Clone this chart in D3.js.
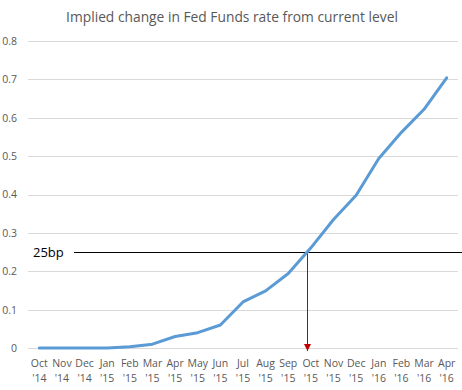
<!DOCTYPE html>
<html>
<head>
<meta charset="utf-8">
<script src="https://cdn.jsdelivr.net/npm/d3@7"></script>
<style>
  body { margin: 0; background: #fff; }
  svg { display: block; font-family: "Open Sans", "Liberation Sans", sans-serif; }
</style>
</head>
<body>
<div class="chart"></div>
<script>
const months = ["Oct", "Nov", "Dec", "Jan", "Feb", "Mar", "Apr", "May", "Jun", "Jul",
                "Aug", "Sep", "Oct", "Nov", "Dec", "Jan", "Feb", "Mar", "Apr"];
const years = ["'14", "'14", "'14", "'15", "'15", "'15", "'15", "'15", "'15", "'15",
               "'15", "'15", "'15", "'15", "'15", "'16", "'16", "'16", "'16"];
const implied = [0, 0, 0, 0, 0.003, 0.01, 0.03, 0.04, 0.06, 0.12,
                 0.149, 0.194, 0.261, 0.335, 0.398, 0.494, 0.562, 0.622, 0.704];
const yTicks = [0, 0.1, 0.2, 0.3, 0.4, 0.5, 0.6, 0.7, 0.8];
const threshold = 0.25;
const thresholdLabel = "25bp";
const title = "Implied change in Fed Funds rate from current level";

const width = 462;
const height = 390;
const plotLeft = 28, plotRight = 458, plotTop = 41, plotBottom = 348;

const svg = d3.select(".chart").append("svg")
    .attr("width", width)
    .attr("height", height);

const x = d3.scaleBand()
    .domain(d3.range(months.length))
    .range([plotLeft, plotRight]);

const y = d3.scaleLinear()
    .domain([0, 0.8])
    .range([plotBottom, plotTop]);

const cx = i => x(i) + x.bandwidth() / 2;
const crisp = v => Math.round(v) + 0.5;

// title
svg.append("text")
    .attr("x", 232)
    .attr("y", 22)
    .attr("text-anchor", "middle")
    .attr("fill", "#595959")
    .style("font-size", "13.8px")
    .text(title);

// grid
svg.append("g")
    .selectAll("line")
    .data(yTicks).enter()
    .append("line")
    .attr("x1", plotLeft)
    .attr("x2", plotRight)
    .attr("y1", d => crisp(y(d)))
    .attr("y2", d => crisp(y(d)))
    .attr("stroke", "#d9d9d9")
    .attr("stroke-width", 1);

// y axis labels
const yAxis = d3.axisLeft(y)
    .tickValues(yTicks)
    .tickFormat(d => d === 0 ? "0" : d3.format(".1f")(d))
    .tickSize(0)
    .tickPadding(0);

svg.append("g")
    .attr("transform", "translate(17,0)")
    .call(yAxis)
    .call(g => g.select(".domain").remove())
    .selectAll("text")
    .attr("fill", "#595959")
    .style("font-size", "10.5px")
    .style("font-family", "'Open Sans', sans-serif");

// x axis labels (two lines)
const xAxis = svg.append("g");
xAxis.selectAll("text")
    .data(months).enter()
    .append("text")
    .attr("x", (d, i) => cx(i))
    .attr("y", 367)
    .attr("text-anchor", "middle")
    .attr("fill", "#595959")
    .style("font-size", "10.5px")
    .each(function(d, i) {
        const t = d3.select(this);
        t.append("tspan").attr("x", cx(i)).text(d);
        t.append("tspan").attr("x", cx(i)).attr("dy", 15).text(years[i]);
    });

// 25bp line
svg.append("line")
    .attr("x1", 74)
    .attr("x2", width)
    .attr("y1", crisp(y(threshold)))
    .attr("y2", crisp(y(threshold)))
    .attr("stroke", "#000")
    .attr("stroke-width", 1);

svg.append("text")
    .attr("x", 33)
    .attr("y", y(threshold) + 5)
    .attr("fill", "#000")
    .style("font-size", "13px")
    .text(thresholdLabel);

// where the curve crosses the threshold
let crossX = cx(0);
for (let i = 1; i < implied.length; i++) {
    if (implied[i - 1] < threshold && implied[i] >= threshold) {
        const t = (threshold - implied[i - 1]) / (implied[i] - implied[i - 1]);
        crossX = cx(i - 1) + t * (cx(i) - cx(i - 1));
        break;
    }
}

svg.append("defs").append("marker")
    .attr("id", "arrow")
    .attr("viewBox", "0 0 10 10")
    .attr("refX", 10)
    .attr("refY", 5)
    .attr("markerWidth", 7)
    .attr("markerHeight", 7)
    .attr("markerUnits", "userSpaceOnUse")
    .attr("orient", "auto")
    .append("path")
    .attr("d", "M0,0L10,5L0,10Z")
    .attr("fill", "#c00000");

svg.append("line")
    .attr("x1", crisp(crossX))
    .attr("x2", crisp(crossX))
    .attr("y1", crisp(y(threshold)))
    .attr("y2", y(0) + 3)
    .attr("stroke", "#c00000")
    .attr("stroke-width", 1)
    .attr("marker-end", "url(#arrow)");

// series line
const line = d3.line()
    .x((d, i) => cx(i))
    .y(d => y(d));

svg.append("path")
    .datum(implied)
    .attr("d", line)
    .attr("fill", "none")
    .attr("stroke", "#5b9bd5")
    .attr("stroke-width", 3)
    .attr("stroke-linejoin", "round")
    .attr("stroke-linecap", "round");
</script>
</body>
</html>
